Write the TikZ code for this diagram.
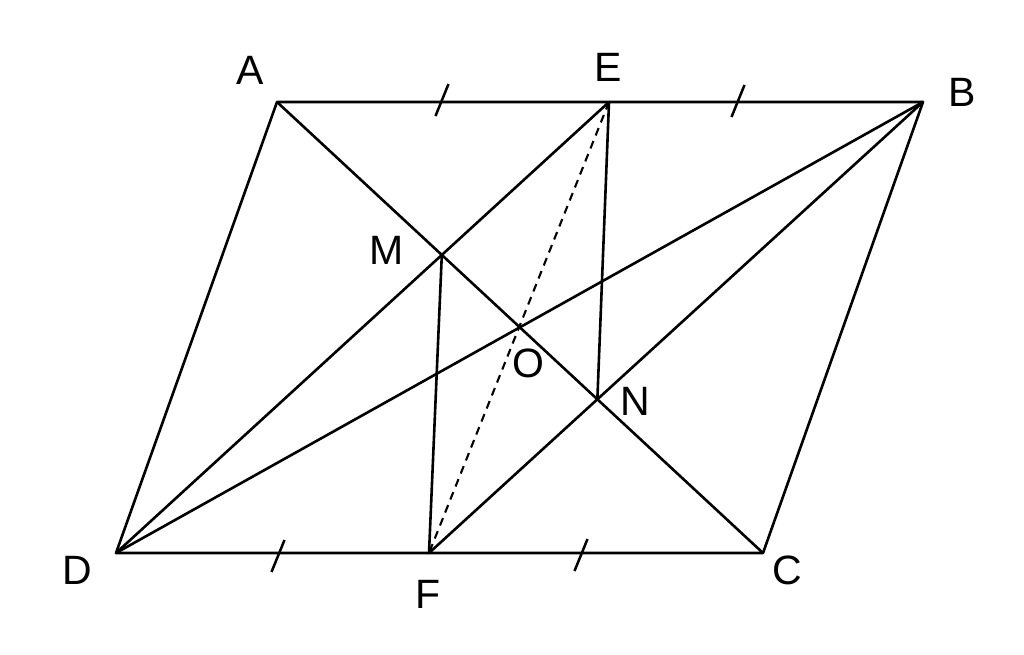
\documentclass[tikz,border=0pt]{standalone}
\usepackage{fontspec}
\setmainfont{Liberation Sans}
\begin{document}
\begin{tikzpicture}[x=1pt,y=-1pt,
  seg/.style={line width=2.6pt,line cap=round,line join=round},
  dashseg/.style={line width=2.1pt,dash pattern=on 8pt off 6pt},
  tickmark/.style={line width=2.5pt},
  lbl/.style={font=\fontsize{41}{48}\selectfont,inner sep=0pt}]
\useasboundingbox (0,0) rectangle (1024,654);
\coordinate (A) at (277,102);
\coordinate (E) at (609,102);
\coordinate (B) at (923,102);
\coordinate (D) at (116,553);
\coordinate (F) at (429,553);
\coordinate (C) at (763,553);
\coordinate (M) at (intersection of A--C and D--E);
\coordinate (N) at (intersection of A--C and B--F);
\coordinate (O) at (intersection of A--C and B--D);
% sides
\draw[seg] (A) -- (B) -- (C) -- (D) -- cycle;
% diagonals
\draw[seg] (A) -- (C);
\draw[seg] (B) -- (D);
% other segments
\draw[seg] (D) -- (E);
\draw[seg] (B) -- (F);
\draw[seg] (M) -- (F);
\draw[seg] (E) -- (N);
\draw[dashseg] (E) -- (F);
% tick marks
\coordinate (t1) at (442,100);
\coordinate (t2) at (738,101);
\coordinate (t3) at (278,556);
\coordinate (t4) at (581,555);
\foreach \t in {t1,t2,t3,t4}
  \draw[tickmark] (\t) ++(6.5,-16) -- ++(-13,32);
% labels
\node[lbl] (lA) at (250,70) {A};
\node[lbl] (lE) at (608,67) {E};
\node[lbl] (lB) at (962,92) {B};
\node[lbl] (lD) at (77,570) {D};
\node[lbl] (lF) at (428,594) {F};
\node[lbl] (lC) at (787,570) {C};
\node[lbl] (lM) at (387,250) {M};
\node[lbl] (lO) at (528,363) {O};
\node[lbl] (lN) at (635,401) {N};
\end{tikzpicture}
\end{document}
